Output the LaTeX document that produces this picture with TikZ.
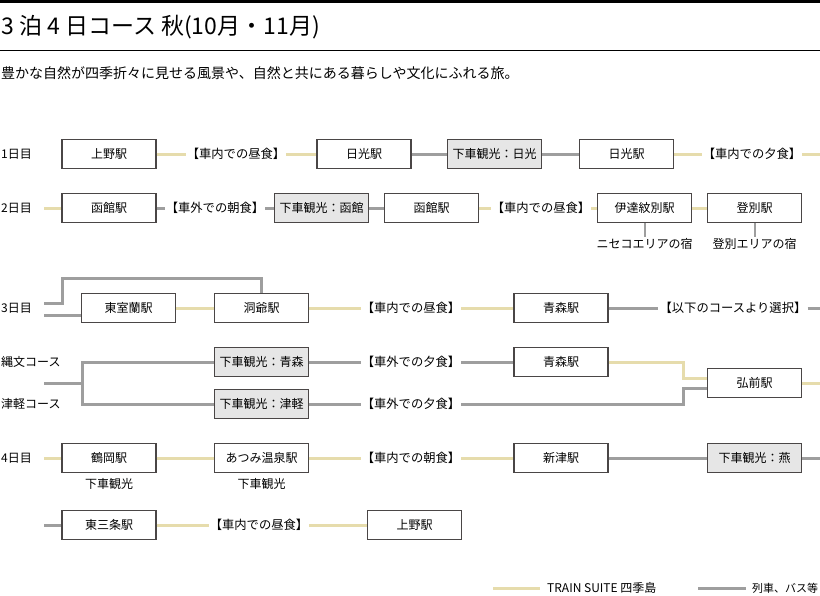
\documentclass[tikz,border=0pt]{standalone}
\usepackage{fontspec}
\setmainfont{Noto Sans CJK JP}
\definecolor{gold}{HTML}{E6DCAC}
\definecolor{rail}{HTML}{9E9E9E}
\definecolor{boxline}{HTML}{4A4646}
\definecolor{tourfill}{HTML}{E6E6E6}

\begin{document}
\begin{tikzpicture}[x=1pt, y=-1pt,
  stn/.style={draw=boxline, line width=1.1pt, fill=white, minimum width=94pt, minimum height=29pt, inner sep=0pt, font=\fontsize{12}{12}\selectfont},
  tour/.style={stn, fill=tourfill},
  meal/.style={inner sep=1pt, font=\fontsize{12.3}{12.3}\selectfont},
  day/.style={anchor=west, inner sep=0pt, font=\fontsize{12}{12}\selectfont},
  note/.style={inner sep=1pt, font=\fontsize{12}{12}\selectfont},
  shiki/.style={line width=3pt, gold},
  other/.style={line width=3pt, rail}]

\useasboundingbox (0,0) rectangle (820,595);

\fill (0,0) rectangle (820,3);
\node[anchor=west, inner sep=0pt, font=\fontsize{23}{23}\selectfont] (title) at (1,27) {3 泊 4 日コース 秋(10月・11月)};
\draw[line width=0.8pt] (0,50) -- (820,50);
\node[anchor=west, inner sep=0pt, font=\fontsize{14}{14}\selectfont] (sub) at (1,73) {豊かな自然が四季折々に見せる風景や、自然と共にある暮らしや文化にふれる旅。};

% day 1
\node[day] (d1) at (1,154) {1日目};
\node[stn] (s1) at (109,154) {上野駅};
\node[meal] (m1) at (236,154) {【車内での昼食】};
\node[stn] (s2) at (364,154) {日光駅};
\node[tour] (t1) at (494.5,154) {下車観光：日光};
\node[stn] (s3) at (626.5,154) {日光駅};
\node[meal] (m2) at (752,154) {【車内での夕食】};
\coordinate (e1) at (820,154);

\draw[shiki] (s1) -- (m1) -- (s2);
\draw[other] (s2) -- (t1) -- (s3);
\draw[shiki] (s3) -- (m2) -- (e1);

% day 2
\node[day] (d2) at (1,208) {2日目};
\coordinate (b2) at (44,208);
\node[stn] (s4) at (109,208) {函館駅};
\node[meal] (m3) at (215,208) {【車外での朝食】};
\node[tour] (t2) at (321.5,208) {下車観光：函館};
\node[stn] (s5) at (431.5,208) {函館駅};
\node[meal] (m4) at (541,208) {【車内での昼食】};
\node[stn] (s6) at (644.5,208) {伊達紋別駅};
\node[stn] (s7) at (754.5,208) {登別駅};
\node[note] (h1) at (644.5,244) {ニセコエリアの宿};
\node[note] (h2) at (754.5,244) {登別エリアの宿};

\draw[shiki] (b2) -- (s4);
\draw[other] (s4) -- (m3) -- (t2) -- (s5);
\draw[shiki] (s5) -- (m4) -- (s6) -- (s7);
\draw[other, line width=2pt] (s6) edge (h1) (s7) edge (h2);

% day 3
\node[day] (d3) at (1,308) {3日目};
\coordinate (a3) at (44,303);
\coordinate (b3) at (44,315);
\coordinate (k3) at (62,278);
\node[stn] (s8) at (128.5,308) {東室蘭駅};
\node[stn] (s9) at (261.5,308) {洞爺駅};
\node[meal] (m5) at (411,308) {【車内での昼食】};
\node[stn] (s10) at (561,308) {青森駅};
\node[meal] (m6) at (733,308) {【以下のコースより選択】};
\coordinate (e3) at (820,308);

\draw[other] (a3) -| (k3) -| (s9.north);
\draw[other] (b3) -- (b3 -| s8.west);
\draw[shiki] (s8) -- (s9) -- (m5) -- (s10);
\draw[other] (s10) -- (m6) -- (e3);

% courses
\node[day] (c1) at (1,362) {縄文コース};
\node[day] (c2) at (1,404) {津軽コース};
\coordinate (b4) at (44,383);
\coordinate (k4) at (82,383);
\node[tour] (t3) at (261.5,362) {下車観光：青森};
\node[tour] (t4) at (261.5,404) {下車観光：津軽};
\node[meal] (m7) at (411,362) {【車外での夕食】};
\node[meal] (m8) at (411,404) {【車外での夕食】};
\node[stn] (s11) at (561,362) {青森駅};
\node[stn] (s12) at (754.5,383) {弘前駅};
\coordinate (j1) at (683,378);
\coordinate (j2) at (683,388);
\coordinate (e4) at (820,383);

\draw[other] (b4) -- (k4) |- (t3);
\draw[other] (k4) |- (t4);
\draw[other] (t3) -- (m7) -- (s11);
\draw[other] (t4) -- (m8);
\draw[shiki] (s11) -| (j1) -- (j1 -| s12.west);
\draw[other] (m8) -| (j2) -- (j2 -| s12.west);
\draw[shiki] (s12) -- (e4);

% day 4
\node[day] (d4) at (1,458) {4日目};
\coordinate (b5) at (44,458);
\node[stn] (s13) at (109,458) {鶴岡駅};
\node[stn] (s14) at (261.5,458) {あつみ温泉駅};
\node[meal] (m9) at (411,458) {【車内での朝食】};
\node[stn] (s15) at (561,458) {新津駅};
\node[tour] (t5) at (754.5,458) {下車観光：燕};
\coordinate (e5) at (820,458);
\node[note] (v1) at (109,484) {下車観光};
\node[note] (v2) at (261.5,484) {下車観光};

\draw[shiki] (b5) -- (s13) -- (s14) -- (m9) -- (s15);
\draw[other] (s15) -- (t5) -- (e5);

\coordinate (b6) at (44,525);
\node[stn] (s16) at (109,525) {東三条駅};
\node[meal] (m10) at (259,525) {【車内での昼食】};
\node[stn] (s17) at (414.5,525) {上野駅};

\draw[other] (b6) -- (s16);
\draw[shiki] (s16) -- (m10) -- (s17);

% legend
\coordinate (g1) at (493,588);
\coordinate (g2) at (540,588);
\coordinate (g3) at (698,588);
\coordinate (g4) at (746,588);
\node[anchor=west, inner sep=0pt, font=\fontsize{12}{12}\selectfont] (l1) at (547,588) {TRAIN SUITE 四季島};
\node[anchor=west, inner sep=0pt, font=\fontsize{11}{11}\selectfont] (l2) at (752,588) {列車、バス等};
\draw[shiki] (g1) -- (g2);
\draw[other] (g3) -- (g4);

\end{tikzpicture}
\end{document}
